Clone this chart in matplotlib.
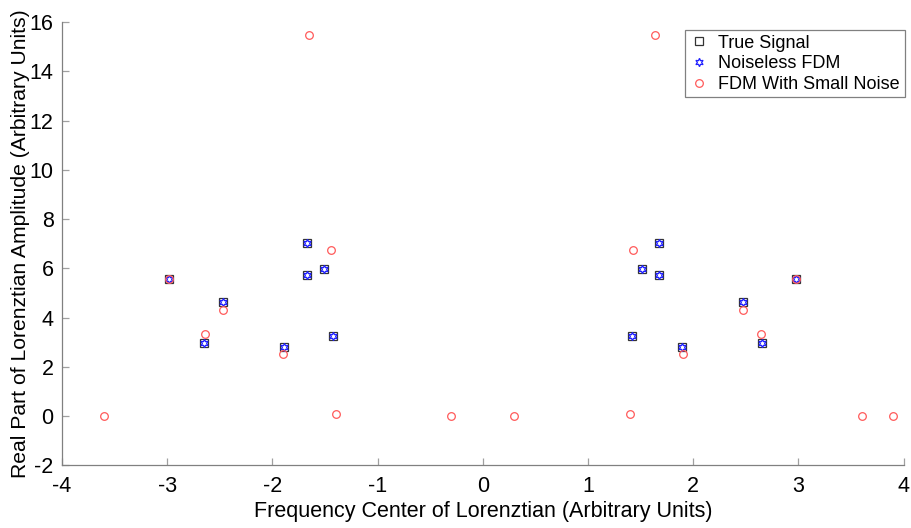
import numpy as np
import matplotlib
matplotlib.use('Agg')
import matplotlib.pyplot as plt
from matplotlib import rc

# Lorentzian centres and real amplitudes
true_freq = [-2.98, -2.65, -2.47, -1.89, -1.67, -1.67, -1.51, -1.42,
             1.42, 1.51, 1.67, 1.67, 1.89, 2.47, 2.65, 2.98]
true_amp = [5.55, 2.97, 4.63, 2.80, 7.02, 5.73, 5.96, 3.24,
            3.24, 5.96, 7.02, 5.73, 2.80, 4.63, 2.97, 5.55]

# noiseless FDM recovers the same peaks
fdm_freq = list(true_freq)
fdm_amp = list(true_amp)

# FDM with a small amount of noise added
noisy_freq = [-3.60, -2.98, -2.64, -2.47, -1.90, -1.65, -1.44, -1.40, -0.30,
              0.30, 1.40, 1.43, 1.64, 1.90, 2.47, 2.64, 2.98, 3.60, 3.90]
noisy_amp = [0.00, 5.55, 3.34, 4.29, 2.51, 15.46, 6.74, 0.07, 0.00,
             0.00, 0.07, 6.74, 15.46, 2.51, 4.29, 3.34, 5.55, 0.00, 0.00]

xticks = np.arange(-4, 5, 1)
yticks = np.arange(-2, 17, 2)

rc('font', **{'family': 'Liberation Sans', 'size': 15})
rc('axes', unicode_minus=False)

fig = plt.figure(figsize=(9.11, 5.28), dpi=100)
ax = fig.add_axes([0.068, 0.119, 0.924, 0.839])

ax.plot(true_freq, true_amp, 's', ms=6, mfc='none', mec='#333333', mew=0.9,
        label='True Signal')
ax.plot(fdm_freq, fdm_amp, marker=(6, 1, 0), ls='none', ms=6, mfc='none',
        mec='#2020ff', mew=0.9, label='Noiseless FDM')
ax.plot(noisy_freq, noisy_amp, 'o', ms=5.5, mfc='none', mec='#ff5a5a', mew=0.9,
        label='FDM With Small Noise')

ax.set_xlim(-4, 4)
ax.set_ylim(-2, 16)
ax.set_xticks(xticks)
ax.set_yticks(yticks)

ax.spines['top'].set_visible(False)
ax.spines['right'].set_visible(False)
for s in ('left', 'bottom'):
    ax.spines[s].set_color('#808080')
    ax.spines[s].set_linewidth(0.9)
ax.tick_params(direction='in', length=5, width=0.9, color='#a0a0a0',
               labelsize=15.5)
ax.tick_params(axis='x', pad=8)
ax.tick_params(axis='y', pad=6)

ax.set_xlabel('Frequency Center of Lorenztian (Arbitrary Units)', fontsize=15.5,
              labelpad=3)
ax.set_ylabel('Real Part of Lorenztian Amplitude (Arbitrary Units)', fontsize=15.2,
              labelpad=0)

leg = ax.legend(loc='upper right', bbox_to_anchor=(1.001, 0.982), fontsize=13,
                fancybox=False, framealpha=1, edgecolor='#808080',
                handlelength=1.0, handletextpad=0.6, borderpad=0.25,
                labelspacing=0.2, borderaxespad=0)
leg.get_frame().set_linewidth(0.9)

fig.savefig('out.png', dpi=100)
